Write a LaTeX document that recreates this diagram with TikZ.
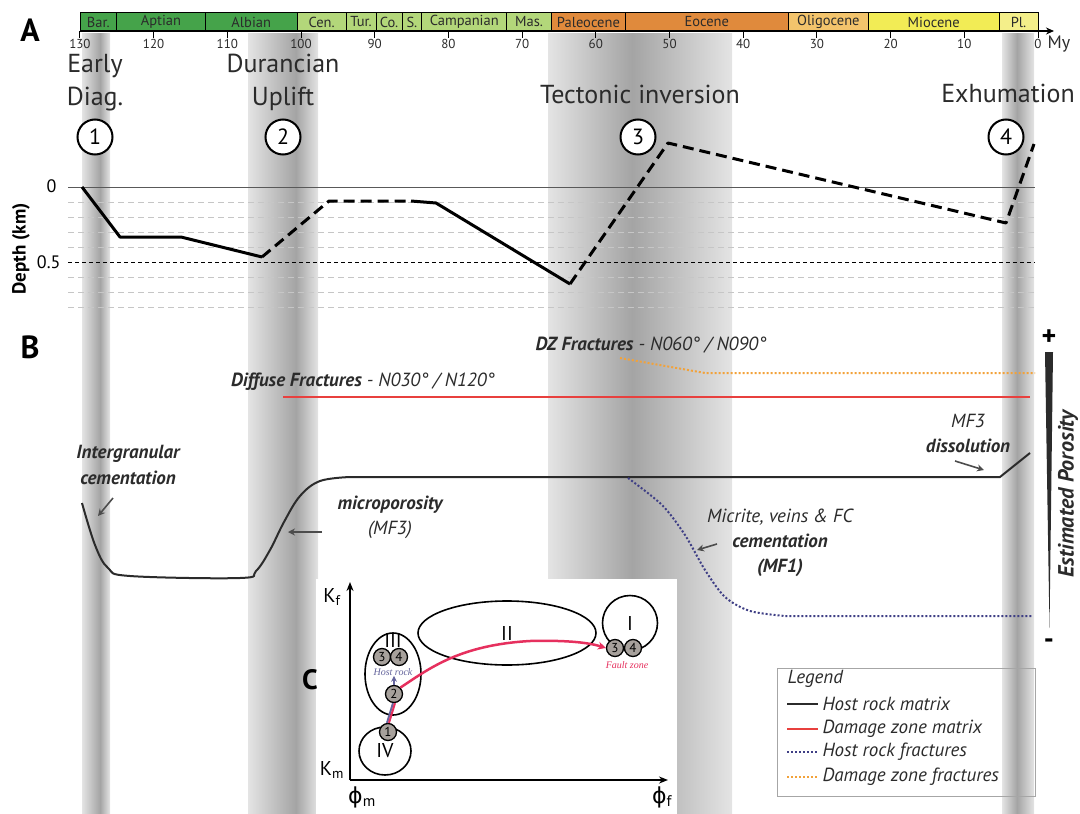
\documentclass[tikz,border=0pt]{standalone}
\usepackage{fontspec}
\setmainfont{PT Sans}
\newfontfamily\smallserif{Liberation Serif}
\newfontfamily\greekfont{DejaVu Sans}
\usetikzlibrary{arrows.meta}
\usetikzlibrary{calc}
\usetikzlibrary{shapes.geometric}

\definecolor{gDark}{HTML}{45A34A}
\definecolor{gLight}{HTML}{B3D77A}
\definecolor{oDark}{HTML}{E08A3C}
\definecolor{oLight}{HTML}{F3C46C}
\definecolor{yDark}{HTML}{F2EC55}
\definecolor{yLight}{HTML}{F4EF8A}
\definecolor{bandD}{HTML}{A4A4A4}
\definecolor{bandL}{HTML}{E4E4E4}
\definecolor{txt}{HTML}{2B2B2B}
\definecolor{dzred}{HTML}{E8403E}
\definecolor{hrblue}{HTML}{3F3F85}
\definecolor{dzorange}{HTML}{F2A23A}
\definecolor{dotgray}{HTML}{A7A19C}
\definecolor{pinkred}{HTML}{E6305E}

\tikzset{
    stage/.style={font=\fontsize{14.5}{14.5}\selectfont, text=txt, inner sep=0pt},
    ticklab/.style={font=\fontsize{13}{13}\selectfont, text=txt, inner sep=1pt},
    event/.style={font=\fontsize{26}{33}\selectfont, text=txt, align=center},
    num/.style={circle, draw, fill=white, line width=2pt, minimum size=35pt, inner sep=0pt, font=\fontsize{22}{22}\selectfont},
    panel/.style={font=\bfseries\fontsize{32}{32}\selectfont},
    grid line/.style={gray!45, dash pattern=on 6pt off 4pt, line width=0.8pt},
    burial/.style={line width=3pt, line join=round},
    buried gap/.style={burial, dash pattern=on 11pt off 6pt},
    note/.style={font=\itshape\fontsize{19}{25}\selectfont, text=txt, align=center},
    pointer/.style={-{Stealth[length=7pt,width=7pt]}, line width=1.6pt, gray!60!black},
    hostline/.style={line width=2pt, txt},
    dzline/.style={line width=2pt, dzred},
    hrdots/.style={line width=2pt, hrblue, dash pattern=on 2pt off 2pt},
    dzdots/.style={line width=2pt, dzorange, dash pattern=on 2pt off 2pt},
    zone/.style={draw, line width=1.6pt, inner sep=0pt, font=\fontsize{20}{20}\selectfont},
    phase/.style={circle, draw, line width=1.3pt, fill=dotgray, inner sep=0pt, minimum size=17pt, font=\fontsize{13}{13}\selectfont},
    kaxis/.style={line width=2.5pt, -{Stealth[length=9pt,width=7pt]}},
    legtxt/.style={font=\itshape\fontsize{19}{19}\selectfont, text=txt, anchor=west},
}

\begin{document}
\begin{tikzpicture}[x=1pt, y=-1pt]

    \useasboundingbox (0,0) rectangle (1080,814);

    \def\xo{1038} \def\s{7.37}

    \foreach \l/\m/\r in {82/100/110, 248/296/318, 548/632/732, 1002/1017/1034}{
        \shade[left color=bandL, right color=bandD] (\l,33) rectangle (\m,814);
        \shade[left color=bandD, right color=bandL] (\m,33) rectangle (\r,814);
    }

    \foreach \a/\b/\lab/\col [count=\i] in {130/125/Bar./gDark, 125/113/Aptian/gDark,
        113/100.5/Albian/gDark, 100.5/93.9/Cen./gLight, 93.9/89.8/Tur./gLight,
        89.8/86.3/Co./gLight, 86.3/83.6/S./gLight, 83.6/72.1/Campanian/gLight,
        72.1/66/Mas./gLight, 66/56/Paleocene/oDark, 56/33.9/Eocene/oDark,
        33.9/23/Oligocene/oLight, 23/5.3/Miocene/yDark, 5.3/0/Pl./yLight}{
        \draw[fill=\col, line width=0.8pt] ({\xo-\s*\a},12) rectangle ({\xo-\s*\b},31);
        \node[stage] (st\i) at ({\xo-\s*(\a+\b)/2},22) {\lab};
    }

    \draw[line width=1.2pt, -{Stealth[length=8pt,width=7pt]}] ({\xo-\s*130},31) -- (1054,31);
    \foreach \t in {0,10,...,130}{
        \draw[line width=1pt] ({\xo-\s*\t},31) -- ++(0,7) node[ticklab, below] (tk\t) {\t};
    }
    \node[font=\fontsize{18}{18}\selectfont, text=txt, anchor=base west] (my) at ($(tk0.base east)+(1,0)$) {My};

    \node[panel] (pA) at (30,30) {A};
    \node[event] (ev1) at (95,83) {Early\\Diag.};
    \node[event] (ev2) at (283,82) {Durancian\\Uplift};
    \node[event] (ev3) at (640,94) {Tectonic inversion};
    \node[event] (ev4) at (1008,93) {Exhumation};
    \foreach \n/\x in {1/95, 2/283, 3/638, 4/1006}
        \node[num] (c\n) at (\x,137) {\n};

    \foreach \k in {1,2,3,4,6,7,8}
        \draw[grid line] (68,{187+15*\k}) -- (1035,{187+15*\k});
    \draw[line width=0.8pt, dash pattern=on 4pt off 3pt] (68,262) -- (1035,262);
    \draw[gray!70!black, line width=1pt] (68,187) -- (1035,187);
    \node[font=\fontsize{18}{18}\selectfont, anchor=east] (d0) at (60,186) {0};
    \node[font=\fontsize{18}{18}\selectfont, anchor=east] (d5) at (64,262) {0.5};
    \node[font=\bfseries\fontsize{19}{19}\selectfont, rotate=90] (dlab) at (21,249) {Depth (km)};

    \draw[burial] (82,187) -- (120,237) -- (181,237) -- (262,257);
    \draw[buried gap] (262,257) -- (329,201) -- (411,201);
    \draw[burial] (411,201) -- (436,203) -- (570,284);
    \draw[buried gap] (570,284) -- (668,143) -- (1006,223) -- (1034,144);

    \node[panel] (pB) at (30,347) {B};
    \node[note] (dzf) at (651,345) {\textbf{DZ Fractures} - N060° / N090°};
    \draw[dzdots] (620,358) -- (705,373) -- (1035,373);
    \node[note] (dif) at (363,382) {\textbf{Diffuse Fractures} - N030° / N120°};
    \draw[dzline] (283,397) -- (1030,397);

    \draw[hostline] plot[smooth, tension=0.6] coordinates {(82,503) (95,545) (108,568) (130,576)
        (240,578) (256,571) (270,550) (284,522) (300,496) (320,481) (350,477)} -- (1000,477) -- (1030,453);
    \draw[hrdots] plot[smooth, tension=0.5] coordinates {(628,478) (662,505) (685,535) (705,570)
        (725,597) (750,611) (785,616)} -- (1032,616);

    \node[note, font=\bfseries\itshape\fontsize{19}{26}\selectfont] (ig) at (128,465) {Intergranular\\cementation};
    \node[note] (mp) at (390,517) {\textbf{microporosity}\\(MF3)};
    \node[note] (dis) at (968,433) {MF3\\\textbf{dissolution}};
    \node[note] (mic) at (780,543) {Micrite, veins \& FC\\\textbf{cementation}\\\textbf{(MF1)}};
    \coordinate (igA) at (113,498); \coordinate (igB) at (98,516);
    \coordinate (mpA) at (322,532); \coordinate (mpB) at (288,532);
    \coordinate (disA) at (955,461); \coordinate (disB) at (984,470);
    \coordinate (micA) at (717,544); \coordinate (micB) at (697,550);
    \draw[pointer] (igA) -- (igB);
    \draw[pointer] (mpA) -- (mpB);
    \draw[pointer] (disA) -- (disB);
    \draw[pointer] (micA) -- (micB);

    \node[font=\bfseries\fontsize{28}{28}\selectfont] (plus) at (1049,338) {+};
    \fill[txt] (1045,352) -- (1053,352) -- (1049.5,628) -- cycle;
    \node[font=\bfseries\fontsize{28}{28}\selectfont] (minus) at (1049,644) {-};
    \node[font=\bfseries\itshape\fontsize{22}{22}\selectfont, text=txt, rotate=90] (ep) at (1068,494) {Estimated Porosity};

    \fill[white] (316,579) rectangle (677,814);
    \node[panel, font=\bfseries\fontsize{28}{28}\selectfont] (pC) at (310,680) {C};
    \coordinate (O) at (350,780);
    \draw[kaxis] (O) -- (350,582);
    \draw[kaxis] (O) -- (668,780);
    \node[font=\fontsize{20}{20}\selectfont] (kf) at (332,597) {K\textsubscript{f}};
    \node[font=\fontsize{20}{20}\selectfont] (km) at (332,770) {K\textsubscript{m}};
    \node[font=\fontsize{22}{22}\selectfont] (pm) at (362,797) {{\greekfont ϕ}\textsubscript{m}};
    \node[font=\fontsize{22}{22}\selectfont] (pf) at (662,797) {{\greekfont ϕ}\textsubscript{f}};

    \node[zone, ellipse, minimum width=52pt, minimum height=48pt] (zIV) at (385,751) {IV};
    \node[zone, ellipse, minimum width=56pt, minimum height=82pt] (zIII) at (393,674) {};
    \node[font=\fontsize{20}{20}\selectfont] (tIII) at (393,640) {III};
    \node[zone, ellipse, minimum width=178pt, minimum height=64pt] (zII) at (507,633) {II};
    \node[zone, circle, minimum size=55pt] (zI) at (630,623) {I};

    \node[phase] (h1) at (388,732) {1};
    \node[phase] (h2) at (394,694) {2};
    \node[phase] (h3) at (382,657) {3};
    \node[phase] (h4) at (399,657) {4};
    \node[phase] (f3) at (615,648) {3};
    \node[phase] (f4) at (633,648) {4};
    \node[font=\smallserif\itshape\fontsize{10}{10}\selectfont, text=hrblue!80] (hr) at (393,672) {Host rock};
    \node[font=\smallserif\itshape\fontsize{10}{10}\selectfont, text=pinkred] (fz) at (627,665) {Fault zone};

    \draw[line width=2pt, hrblue!80] ([xshift=-1pt]h1.north) -- ([xshift=-1pt]h2.south);
    \draw[line width=2pt, pinkred] ([xshift=1pt]h1.north) -- ([xshift=1pt]h2.south);
    \draw[line width=1.6pt, hrblue!80, -{Stealth[length=6pt,width=6pt]}] (h2.north) -- ++(0,-9);
    \draw[line width=2.5pt, pinkred, -{Stealth[length=8pt,width=8pt]}] (h2.north east)
        .. controls (430,668) and (460,645) .. (530,641) .. controls (570,640) and (590,643) .. (f3.west);

    \draw[gray!70, line width=1pt] (777,668) rectangle (1035,796);
    \node[legtxt] (lg0) at (784,679) {Legend};
    \foreach \y/\sty/\lab [count=\i] in {704/hostline/Host rock matrix, 729/dzline/Damage zone matrix,
        752/hrdots/Host rock fractures, 777/dzdots/Damage zone fractures}{
        \draw[\sty] (787,\y) -- (818,\y);
        \node[legtxt] (lg\i) at (819,\y) {\lab};
    }

\end{tikzpicture}
\end{document}
